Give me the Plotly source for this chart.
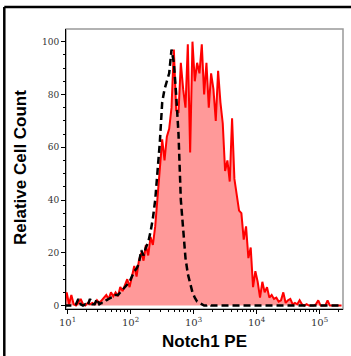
import numpy as np
import plotly.graph_objects as go

# histogram channel grid (log10 of channel value), 120 bins
log_lo, log_hi, n_bins = 0.95, 5.35, 120
channels = np.logspace(log_lo, log_hi, n_bins)

notch1_counts = [
    0, 5, 0.5, 4, 0.5, 0, 1, 2.5, 0.5, 0,
    1, 0.5, 1, 0.5, 2, 1, 2, 3, 4, 2.5,
    5, 3.5, 5, 3.5, 7, 5.5, 8, 10, 7, 11,
    15, 11, 17, 20, 17, 23, 19, 26, 23, 30,
    40, 52, 63, 55, 64, 67, 75, 97, 74, 73,
    92, 82, 75, 99, 58, 100, 85, 92, 88, 99,
    80, 92, 75, 88, 82, 70, 89, 77, 69, 51,
    55, 47, 71, 48, 41, 36, 35, 25, 30, 18,
    22, 7, 13, 9, 3, 9, 5, 7, 3, 4,
    2.5, 3, 1.5, 2, 5, 1, 2, 2.5, 0.5, 1,
    0.5, 2, 0.5, 0, 0.5, 0, 0, 0, 0.5, 2,
    0, 0, 0, 2, 0, 0, 0, 0, 0, 0,
]

isotype_counts = [
    0, 0, 0, 0, 0, 0.5, 2.5, 0.5, 0, 0.5,
    0, 2.5, 0.5, 0.5, 2.5, 0.5, 1, 1, 2, 2.5,
    3, 3, 4, 4, 5, 6, 7, 8, 9, 11,
    13, 14, 16, 21, 19, 22, 24, 28, 33, 40,
    50, 62, 77, 82, 85, 88, 97, 92, 80, 65,
    40, 28, 18, 12, 8, 5, 3, 1.5, 1, 0.5,
    0, 0, 0.5, 0, 0, 0, 0, 0, 0, 0,
    0, 0, 0, 0, 0, 0, 0, 0, 0, 0,
    0, 0, 0, 0, 0, 0, 0, 0, 0, 0,
    0, 0, 0, 0, 0, 0, 0, 0, 0, 0,
    0, 0, 0, 0, 0, 0, 0, 0, 0, 0,
    0, 0, 0, 0, 0, 0, 0, 0, 0, 0,
]

x_tick_vals = [1e1, 1e2, 1e3, 1e4, 1e5]
x_tick_text = ["10<sup>1</sup>", "10<sup>2</sup>", "10<sup>3</sup>",
               "10<sup>4</sup>", "10<sup>5</sup>"]
y_tick_vals = [0, 20, 40, 60, 80, 100]
x_title = "Notch1 PE"
y_title = "Relative Cell Count"

x_minor = [m * 10 ** k for k in range(0, 6) for m in range(2, 10)]

fig = go.Figure()
fig.add_trace(go.Scatter(
    x=channels, y=notch1_counts, mode="lines",
    line=dict(color="#ff0000", width=2),
    fill="tozeroy", fillcolor="rgba(255,0,0,0.4)",
    showlegend=False, hoverinfo="skip",
))
fig.add_trace(go.Scatter(
    x=channels, y=isotype_counts, mode="lines",
    line=dict(color="#000000", width=2.5, dash="7px,4px"),
    showlegend=False, hoverinfo="skip",
))

L, R, T, B = 66, 8, 29, 47
W, H = 351, 356
pw, ph = W - L - R, H - T - B
frame_x = (4.3 - L) / pw
frame_y = (H - B - 7) / ph

fig.update_layout(
    width=W, height=H,
    margin=dict(l=L, r=R, t=T, b=B, pad=0),
    paper_bgcolor="white", plot_bgcolor="white",
    xaxis=dict(
        type="log", range=[0.976, 5.373],
        tickmode="array", tickvals=x_tick_vals, ticktext=x_tick_text,
        ticks="outside", ticklen=4, tickcolor="#000", tickwidth=1,
        minor=dict(tickmode="array", tickvals=x_minor, ticks="outside",
                   ticklen=2, tickcolor="#000", tickwidth=1, showgrid=False),
        showline=True, linecolor="#000", linewidth=1,
        showgrid=False, zeroline=False,
        tickfont=dict(family="DejaVu Serif", size=10, color="#333"),
    ),
    yaxis=dict(
        range=[-1.3, 104.8],
        tickmode="array", tickvals=y_tick_vals,
        ticks="outside", ticklen=4, tickcolor="#000", tickwidth=1,
        minor=dict(dtick=5, tick0=0, ticks="outside", ticklen=2,
                   tickcolor="#000", tickwidth=1, showgrid=False),
        showline=True, linecolor="#000", linewidth=1,
        showgrid=False, zeroline=False,
        tickfont=dict(family="DejaVu Serif", size=9, color="#333"),
    ),
    shapes=[
        dict(type="rect", xref="paper", yref="paper", x0=0, x1=1, y0=0, y1=1,
             line=dict(color="#999", width=1.5), layer="below"),
        dict(type="line", xref="paper", yref="paper",
             x0=frame_x, x1=1.03, y0=frame_y, y1=frame_y,
             line=dict(color="#000", width=2.5)),
        dict(type="line", xref="paper", yref="paper",
             x0=frame_x, x1=frame_x, y0=-0.2, y1=frame_y,
             line=dict(color="#000", width=2.5)),
    ],
    annotations=[
        dict(text=f"<b>{y_title}</b>", xref="paper", yref="paper",
             x=(20 - L) / pw, y=(H - B - 168) / ph, textangle=-90,
             showarrow=False, xanchor="center", yanchor="middle",
             font=dict(family="Liberation Sans", size=17, color="#000")),
        dict(text=f"<b>{x_title}</b>", xref="paper", yref="paper",
             x=(204 - L) / pw, y=(H - B - 341.5) / ph,
             showarrow=False, xanchor="center", yanchor="middle",
             font=dict(family="Liberation Sans", size=17, color="#000")),
    ],
)

fig.write_html(
    "out.html",
    config={"displayModeBar": False},
    post_script="document.body.style.margin='0';document.body.style.padding='0';",
)
